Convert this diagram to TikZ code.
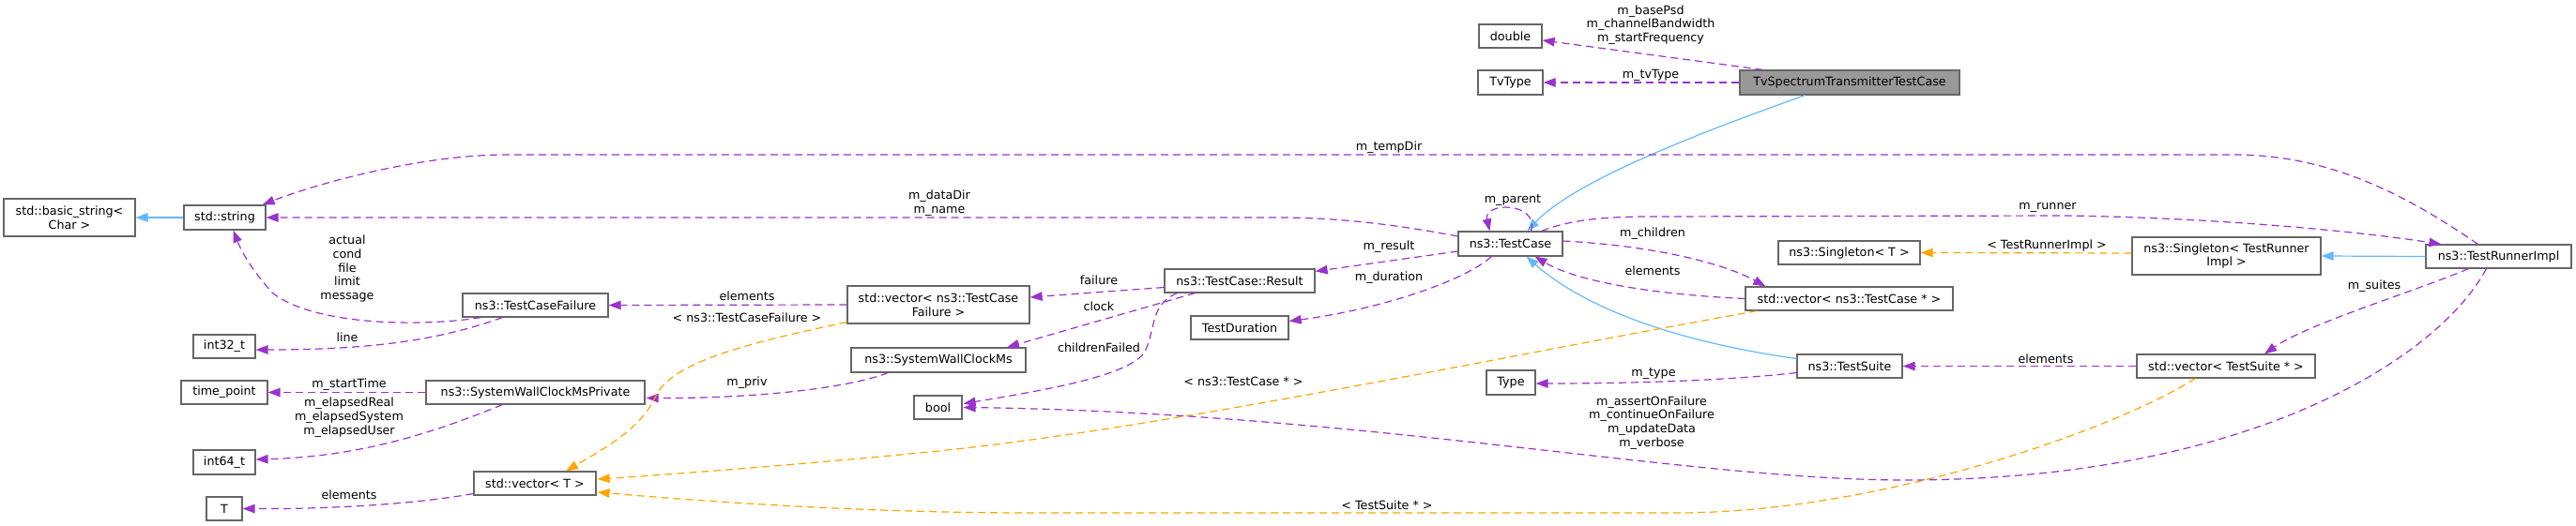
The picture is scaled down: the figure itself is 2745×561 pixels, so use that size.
\documentclass[tikz,border=0pt]{standalone}
\usepackage{fontspec}
\setmainfont{DejaVu Sans}
\usetikzlibrary{arrows.meta,calc}
\definecolor{epurple}{HTML}{9A32CD}
\definecolor{eorange}{HTML}{FFA500}
\definecolor{eblue}{HTML}{63B8FF}
\definecolor{nborder}{HTML}{666666}
\definecolor{nmain}{HTML}{999999}
\newcommand\dxfont{\fontsize{12.7}{14.7}\selectfont}
\begin{document}
\begin{tikzpicture}[x=1pt,y=-1pt,
  box/.style={draw=nborder, line width=1.2pt, fill=white, inner sep=0pt, align=center, font=\dxfont},
  mainbox/.style={box, fill=nmain},
  lbl/.style={inner sep=0pt, align=center, font=\dxfont},
  use/.style={draw=epurple, line width=1.2pt, dash pattern=on 8pt off 5pt, -{Triangle[length=13pt,width=9.5pt]}},
  tmpl/.style={use, draw=eorange},
  inh/.style={draw=eblue, line width=1.2pt, -{Triangle[length=13pt,width=9.5pt]}}]
\useasboundingbox (0,0) rectangle (2745,561);

% nodes
\node[box, minimum width=140pt, minimum height=40pt] (basic) at (74,232) {std::basic\_string<\\Char >};
\node[box, minimum width=87pt, minimum height=26pt] (str) at (239.5,232) {std::string};
\node[box, minimum width=155pt, minimum height=25pt] (tcf) at (570.5,325.5) {ns3::TestCaseFailure};
\node[box, minimum width=66pt, minimum height=25pt] (i32) at (239,369.5) {int32\_t};
\node[box, minimum width=92pt, minimum height=25pt] (tp) at (239,418.5) {time\_point};
\node[box, minimum width=233pt, minimum height=25pt] (swcmp) at (570.5,418.5) {ns3::SystemWallClockMsPrivate};
\node[box, minimum width=66pt, minimum height=26pt] (i64) at (239,493) {int64\_t};
\node[box, minimum width=38pt, minimum height=25pt] (tt) at (239,542.5) {T};
\node[box, minimum width=130pt, minimum height=25pt] (vect) at (570,515.5) {std::vector< T >};
\node[box, minimum width=194pt, minimum height=40pt] (vectcf) at (1000,325) {std::vector< ns3::TestCase\\Failure >};
\node[box, minimum width=160pt, minimum height=25pt] (res) at (1321,299.5) {ns3::TestCase::Result};
\node[box, minimum width=186pt, minimum height=26pt] (swcm) at (1000,384) {ns3::SystemWallClockMs};
\node[box, minimum width=51pt, minimum height=25pt] (bool) at (999.5,434.5) {bool};
\node[box, minimum width=104pt, minimum height=25pt] (dur) at (1321,349.5) {TestDuration};
\node[box, minimum width=111pt, minimum height=26pt] (tc) at (1609.5,260) {ns3::TestCase};
\node[box, minimum width=67pt, minimum height=25pt] (dbl) at (1609.5,38.5) {double};
\node[box, minimum width=69pt, minimum height=26pt] (tvt) at (1609.5,88) {TvType};
\node[mainbox, minimum width=234pt, minimum height=26pt] (tvs) at (1971,88) {TvSpectrumTransmitterTestCase};
\node[box, minimum width=151pt, minimum height=25pt] (singt) at (1970.5,269.5) {ns3::Singleton< T >};
\node[box, minimum width=221pt, minimum height=25pt] (vectc) at (1970.5,318.5) {std::vector< ns3::TestCase * >};
\node[box, minimum width=52pt, minimum height=26pt] (type) at (1610,408) {Type};
\node[box, minimum width=112pt, minimum height=25pt] (ts) at (1971,390.5) {ns3::TestSuite};
\node[box, minimum width=201pt, minimum height=40pt] (stri) at (2372.5,273) {ns3::Singleton< TestRunner\\Impl >};
\node[box, minimum width=190pt, minimum height=25pt] (vects) at (2372,390.5) {std::vector< TestSuite * >};
\node[box, minimum width=155pt, minimum height=25pt] (tri) at (2662.5,273.5) {ns3::TestRunnerImpl};

% edges
\draw[use] ($(tvs.north west)+(25,0)$) -- ($(dbl.east)+(0,4.5)$);
\draw[use] (tvs.west) -- (tvt.east);
\draw[inh] ($(tvs.south west)+(70,0)$) .. controls (1830,135) and (1680,190) .. ($(tc.north)+(18,0)$);
\draw[use] ($(tc.north)+(22,0)$) .. controls (1640,215) and (1580,215) .. ($(tc.north)+(-22,0)$);
\draw[use] ($(tc.west)+(0,-8)$) .. controls (1480,238) and (1420,232) .. (1360,232) -- (str.east);
\draw[use] ($(tri.north west)+(56,0)$) .. controls (2560,205) and (2480,165) .. (2380,165) -- (540,165) .. controls (450,165) and (340,195) .. ($(str.north east)+(-4,0)$);
\draw[use] ($(tc.west)+(0,8)$) -- ($(res.north east)+(0,3)$);
\draw[use] ($(tc.south west)+(36,0)$) .. controls (1560,300) and (1470,330) .. ($(dur.east)+(0,-7)$);
\draw[use] ($(tc.east)+(0,-3)$) .. controls (1760,262) and (1835,280) .. ($(vectc.north west)+(22,0)$);
\draw[use] ($(vectc.west)+(0,0)$) .. controls (1760,314) and (1680,300) .. ($(tc.south)+(26,0)$);
\draw[inh] ($(ts.west)+(0,-8)$) .. controls (1790,365) and (1690,330) .. ($(tc.south)+(17,0)$);
\draw[use] ($(tc.north east)+(-23,0)$) .. controls (1670,236) and (1700,231) .. (1760,231) -- (2200,230) .. controls (2350,232) and (2500,245) .. ($(tri.north west)+(17,0)$);
\draw[use] ($(res.west)+(0,7)$) -- ($(vectcf.east)+(0,-8)$);
\draw[use] ($(res.south west)+(33,0)$) -- ($(swcm.north)+(73,0)$);
\draw[use] ($(res.south west)+(14,0)$) .. controls (1225,325) and (1232,350) .. (1220,375) .. controls (1205,400) and (1120,415) .. ($(bool.east)+(1,-4)$);
\draw[use] (vectcf.west) -- (tcf.east);
\draw[use] ($(tcf.south west)+(20,0)$) .. controls (440,350) and (330,345) .. (290,312) .. controls (270,290) and (258,270) .. ($(str.south)+(9,0)$);
\draw[use] ($(tcf.south west)+(43,0)$) .. controls (470,362) and (400,373) .. ($(i32.east)+(0,3.5)$);
\draw[use] ($(swcm.south west)+(40,0)$) .. controls (900,415) and (800,425) .. ($(swcmp.east)+(1,6)$);
\draw[use] (swcmp.west) -- (tp.east);
\draw[use] ($(swcmp.south west)+(82,0)$) .. controls (470,458) and (390,487) .. ($(i64.east)+(0,-3)$);
\draw[use] ($(vect.west)+(0,11)$) .. controls (440,538) and (350,543) .. (tt.east);
\draw[tmpl] ($(vectcf.south west)+(0,-2)$) .. controls (800,365) and (720,385) .. (700,420) .. controls (685,455) and (650,475) .. ($(vect.north)+(33,0)$);
\draw[tmpl] ($(vectc.south west)+(13,0)$) .. controls (1600,380) and (1250,455) .. (1000,481) .. controls (850,496) and (700,507) .. ($(vect.east)+(1,-4.5)$);
\draw[tmpl] ($(vects.south west)+(63,0)$) .. controls (2250,460) and (2000,547) .. (1786,547) -- (1100,547) .. controls (900,547) and (720,532) .. ($(vect.east)+(1,9.5)$);
\draw[tmpl] ($(stri.west)+(0,-3)$) -- (singt.east);
\draw[inh] (tri.west) -- (stri.east);
\draw[use] ($(tri.south west)+(46,0)$) .. controls (2570,312) and (2460,345) .. ($(vects.north)+(41,0)$);
\draw[use] (vects.west) -- (ts.east);
\draw[use] ($(ts.west)+(0,7)$) .. controls (1850,405) and (1750,409) .. ($(type.east)+(0,1)$);
\draw[use] ($(tri.south west)+(65,0)$) .. controls (2600,380) and (2400,512) .. (2030,512) .. controls (1800,512) and (1450,440) .. ($(bool.east)+(1,0)$);
\draw[inh] (str.west) -- (basic.east);

% labels
\node[lbl] (l1) at (1759,26.5) {m\_basePsd\\m\_channelBandwidth\\m\_startFrequency};
\node[lbl] (l2) at (1759,80) {m\_tvType};
\node[lbl] (l3) at (1612,214) {m\_parent};
\node[lbl] (l4) at (1001,216.5) {m\_dataDir\\m\_name};
\node[lbl] (l5) at (1480,157) {m\_tempDir};
\node[lbl] (l6) at (1480,263) {m\_result};
\node[lbl] (l7) at (1480,296) {m\_duration};
\node[lbl] (l8) at (1761,249) {m\_children};
\node[lbl] (l9) at (1761,289) {elements};
\node[lbl] (l10) at (2182,221) {m\_runner};
\node[lbl] (l11) at (1171,299) {failure};
\node[lbl] (l12) at (1171,327) {clock};
\node[lbl] (l13) at (1171,371) {childrenFailed};
\node[lbl] (l14) at (796,316) {elements};
\node[lbl] (l15) at (370,286.5) {actual\\cond\\file\\limit\\message};
\node[lbl] (l16) at (370,360) {line};
\node[lbl] (l17) at (796,408) {m\_priv};
\node[lbl] (l18) at (372,410) {m\_startTime};
\node[lbl] (l19) at (372,445) {m\_elapsedReal\\m\_elapsedSystem\\m\_elapsedUser};
\node[lbl] (l20) at (372,528) {elements};
\node[lbl] (l21) at (796,339) {< ns3::TestCaseFailure >};
\node[lbl] (l22) at (1325,407) {< ns3::TestCase * >};
\node[lbl] (l23) at (1478,539) {< TestSuite * >};
\node[lbl] (l24) at (2181,262) {< TestRunnerImpl >};
\node[lbl] (l25) at (2530,305) {m\_suites};
\node[lbl] (l26) at (2180,383) {elements};
\node[lbl] (l27) at (1762,399) {m\_type};
\node[lbl] (l28) at (1760,451) {m\_assertOnFailure\\m\_continueOnFailure\\m\_updateData\\m\_verbose};
\end{tikzpicture}
\end{document}
